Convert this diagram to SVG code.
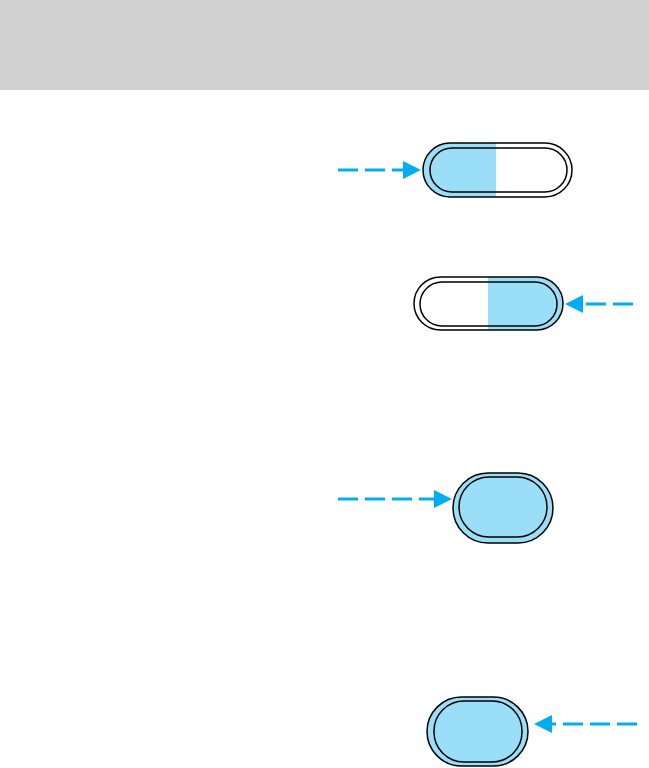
<svg xmlns="http://www.w3.org/2000/svg" width="649" height="768" viewBox="0 0 649 768">
<defs>
<style>
.ring{fill:none;stroke:#000;stroke-width:1.5}
.blue{fill:#9bdef7}
.dash{stroke:#00aeef;stroke-width:3;stroke-dasharray:20 7;fill:none}
.head{fill:#00aeef}
</style>
<clipPath id="c1"><rect x="423" y="143" width="149" height="54" rx="27"/></clipPath>
<clipPath id="c2"><rect x="414" y="277" width="149" height="53" rx="26.5"/></clipPath>
</defs>
<rect x="0" y="0" width="649" height="90" fill="#d2d2d2"/>
<g id="button1">
<rect x="423" y="143" width="73" height="54" class="blue" clip-path="url(#c1)"/>
<rect x="423" y="143" width="149" height="54" rx="27" class="ring"/>
<rect x="430" y="148" width="137" height="44" rx="22" class="ring"/>
</g>
<g id="button2">
<rect x="488" y="277" width="75" height="53" class="blue" clip-path="url(#c2)"/>
<rect x="414" y="277" width="149" height="53" rx="26.5" class="ring"/>
<rect x="420" y="282" width="137" height="44" rx="22" class="ring"/>
</g>
<g id="button3">
<rect x="453" y="473" width="100" height="70" rx="35" class="blue"/>
<rect x="453" y="473" width="100" height="70" rx="35" class="ring"/>
<rect x="459" y="477" width="88" height="60" rx="30" class="ring"/>
</g>
<g id="button4">
<rect x="427" y="697" width="101" height="69" rx="34.5" class="blue"/>
<rect x="427" y="697" width="101" height="69" rx="34.5" class="ring"/>
<rect x="434" y="701" width="88" height="61" rx="30" class="ring"/>
</g>
<g id="connectors">
<line x1="338" y1="170" x2="404" y2="170" class="dash"/>
<polygon points="403,161 421,170 403,179" class="head"/>
<line x1="633" y1="304" x2="582" y2="304" class="dash"/>
<polygon points="583,295 565,304 583,313" class="head"/>
<line x1="338" y1="499" x2="435" y2="499" class="dash"/>
<polygon points="434,490 452,499 434,508" class="head"/>
<line x1="637" y1="724" x2="551" y2="724" class="dash"/>
<polygon points="552,715 534,724 552,733" class="head"/>
</g>
</svg>
